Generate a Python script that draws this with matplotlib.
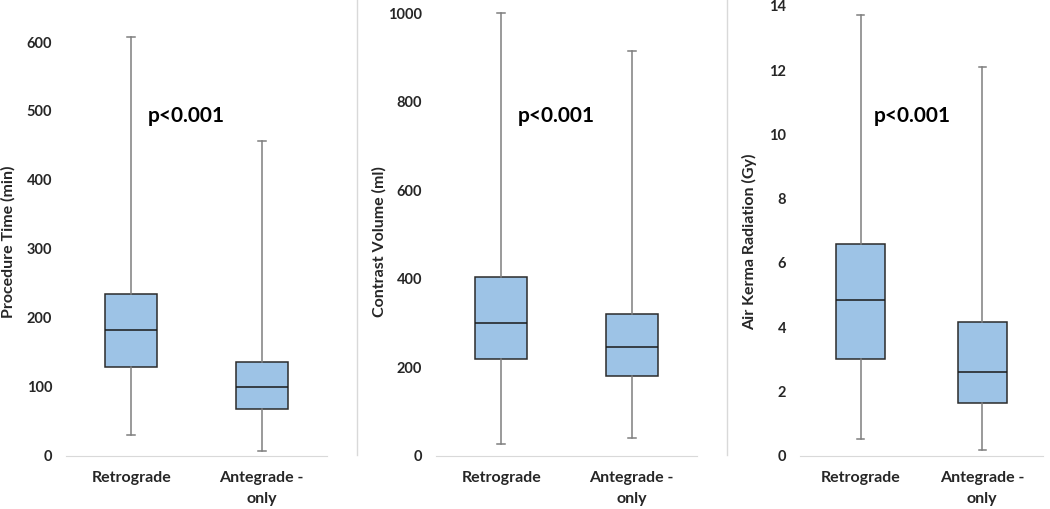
import matplotlib.pyplot as plt
from matplotlib.lines import Line2D

plt.rcParams['font.family'] = ['Lato', 'DejaVu Sans']
plt.rcParams['font.weight'] = 'bold'

groups = ["Retrograde", "Antegrade -\nonly"]

# procedure time (min): whisker low, Q1, median, Q3, whisker high
time_low = [30, 6]
time_q1 = [128, 68]
time_med = [182, 99]
time_q3 = [234, 135]
time_high = [608, 456]

# contrast volume (ml)
contrast_low = [25, 40]
contrast_q1 = [219, 179]
contrast_med = [300, 245]
contrast_q3 = [403, 319]
contrast_high = [1000, 915]

# air kerma radiation (Gy)
kerma_low = [0.5, 0.17]
kerma_q1 = [3.0, 1.62]
kerma_med = [4.83, 2.6]
kerma_q3 = [6.57, 4.16]
kerma_high = [13.72, 12.1]

ylabels = ["Procedure Time (min)", "Contrast Volume (ml)", "Air Kerma Radiation (Gy)"]


def make_stats(low, q1, med, q3, high):
    stats = []
    for i in range(len(groups)):
        stats.append({"whislo": low[i], "q1": q1[i], "med": med[i], "q3": q3[i],
                      "whishi": high[i], "fliers": []})
    return stats


panels = [
    (make_stats(time_low, time_q1, time_med, time_q3, time_high), (0, 661), range(0, 601, 100), [66, 327], -0.193),
    (make_stats(contrast_low, contrast_q1, contrast_med, contrast_q3, contrast_high), (0, 1030), range(0, 1001, 200), [436, 697], -0.19),
    (make_stats(kerma_low, kerma_q1, kerma_med, kerma_q3, kerma_high), (0, 14.18), range(0, 15, 2), [800, 1043], -0.176),
]

W, H = 1050, 509
fig = plt.figure(figsize=(10.5, 5.09), dpi=100)

text_col = "#262626"
for k, (stats, ylim, yticks, xr, lab_x) in enumerate(panels):
    ax = fig.add_axes([xr[0] / W, (H - 455.5) / H, (xr[1] - xr[0]) / W, 455.5 / H])
    ax.bxp(stats, positions=[0.5, 1.5], widths=0.4, patch_artist=True, showfliers=False,
           capwidths=0.06,
           boxprops=dict(facecolor="#9DC3E6", edgecolor="#2b2b2b", linewidth=1.1),
           medianprops=dict(color="#1a1a1a", linewidth=1.1),
           whiskerprops=dict(color="#7f7f7f", linewidth=1.1),
           capprops=dict(color="#7f7f7f", linewidth=1.1))
    ax.set_xlim(0, 2)
    ax.set_ylim(*ylim)
    ax.set_yticks(list(yticks))
    ax.set_yticklabels([str(t) for t in yticks], fontsize=10.5, fontweight="bold", color=text_col)
    ax.set_xticks([0.5, 1.5])
    ax.set_xticklabels(groups, fontsize=11.5, fontweight="bold", color=text_col, linespacing=1.7)
    ax.tick_params(axis="both", length=0)
    ax.tick_params(axis="y", pad=10)
    ax.tick_params(axis="x", pad=11)
    for s in ["left", "right", "top"]:
        ax.spines[s].set_visible(False)
    ax.spines["bottom"].set_color("#d9d9d9")
    ax.set_ylabel(ylabels[k], fontsize=11.5, fontweight="bold", color=text_col)
    ax.yaxis.set_label_coords(lab_x, 0.47)
    ax.patch.set_visible(False)
    ax.text(0.46, 0.745, "p<0.001", transform=ax.transAxes, fontsize=15, fontweight="bold",
            color="black", ha="center", va="center")

# light separators between the panels
for xs in [357, 727]:
    fig.add_artist(Line2D([xs / W, xs / W], [(H - 455) / H, 1.0], color="#d9d9d9", linewidth=1))

fig.savefig("out.png", dpi=100)
